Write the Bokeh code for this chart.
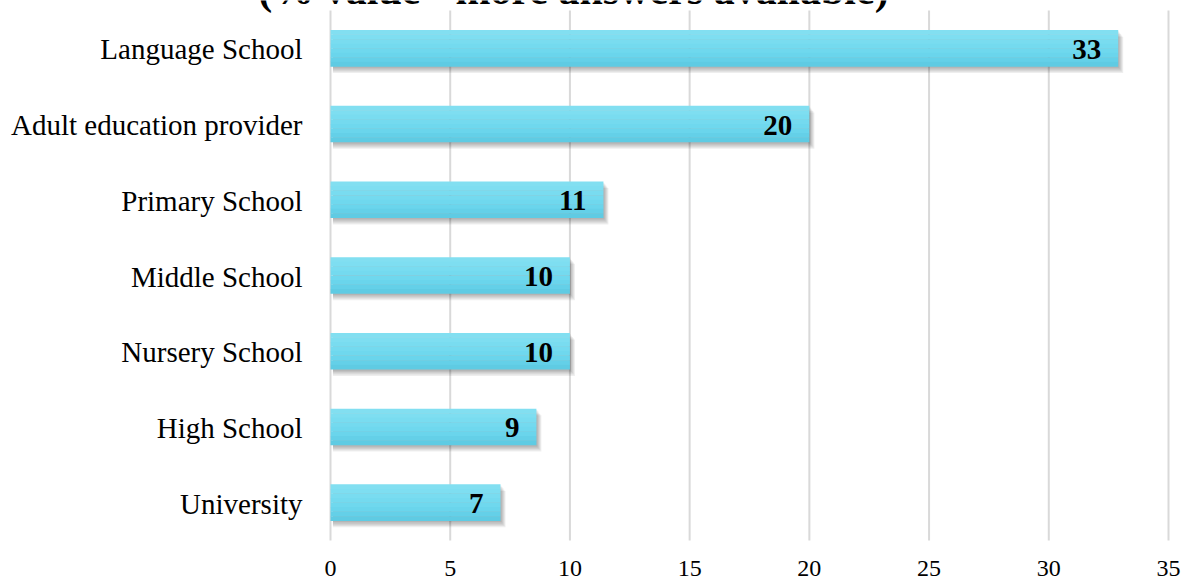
from bokeh.plotting import figure
from bokeh.models import ColumnDataSource, FactorRange, Range1d, Label
from bokeh.transform import dodge
from bokeh.core.properties import value
from bokeh.embed import file_html
from bokeh.resources import INLINE

categories = ["Language School", "Adult education provider", "Primary School",
              "Middle School", "Nursery School", "High School", "University"]
values = [32.9, 20.0, 11.4, 10.0, 10.0, 8.6, 7.1]
labels = ["33", "20", "11", "10", "10", "9", "7"]
x_ticks = [0, 5, 10, 15, 20, 25, 30, 35]
tick_labels = ["0", "5", "10", "15", "20", "25", "30", "35"]
title_text = "(% value - more answers available)"

W, H = 1182, 581
# layout: value axis 0..35 spans pixels 330..1168; category band spans pixels 10..540
ppu = (1168 - 330) / 35.0
S = (540 - 10) / 7.0                      # pixels per category
span = H / S                              # synthetic units shown
pad = (span - 7) / 7.0
shift = (((H - 530) / 2.0) - 10) / S      # move band up so that it starts at 10px

x_range = Range1d(-330 / ppu, 35 + (W - 1168) / ppu)
y_range = FactorRange(factors=list(reversed(categories)), range_padding=pad)

p = figure(width=W, height=H, x_range=x_range, y_range=y_range,
           output_backend="svg", toolbar_location=None,
           x_axis_location=None, y_axis_location=None,
           min_border_left=0, min_border_right=0, min_border_top=0, min_border_bottom=0)
p.background_fill_color = "white"
p.border_fill_color = "white"
p.outline_line_color = None
p.grid.grid_line_color = None

src = ColumnDataSource(dict(cat=categories, val=values, lab=labels))

# vertical gridlines at the value ticks, spanning the category band
gsrc = ColumnDataSource(dict(x=x_ticks, lab=tick_labels, ybot=[categories[-1]] * len(x_ticks),
                             ytop=[categories[0]] * len(x_ticks)))
p.segment(x0="x", x1="x", y0=dodge("ybot", -0.5 + shift, range=y_range),
          y1=dodge("ytop", 0.5 + shift, range=y_range),
          source=gsrc, line_color="#d9d9d9", line_width=2)

bar_h = 0.48
px_y = 1 / S
px_x = 1 / ppu

# soft shadow layers
for k in range(1, 6):
    sh = dict(cat=categories, right=[v + k * 1.0 * px_x for v in values],
              left=[0.1] * len(values))
    p.hbar(y=dodge("cat", shift - k * 1.3 * px_y, range=y_range), height=bar_h,
           left="left", right="right", source=ColumnDataSource(sh),
           fill_color="black", fill_alpha=0.065, line_color=None)

# gradient bar slices (top -> bottom)
colors = ["#82dff1", "#7edef1", "#79dcf0", "#74daef", "#6fd8ee", "#6ad5ec",
          "#64d0e8", "#5fcbe3"]
n = len(colors)
sh_h = bar_h / n
for i, c in enumerate(colors):
    off = bar_h / 2 - sh_h * (i + 0.5)
    p.hbar(y=dodge("cat", shift + off, range=y_range), height=sh_h * 1.05, left=0, right="val",
           source=src, fill_color=c, line_color=None)

# value labels
p.text(x="val", y=dodge("cat", shift, range=y_range), text="lab", source=src,
       text_align="right", text_baseline="middle",
       x_offset=-17, y_offset=1, text_font=value("Liberation Serif"), text_font_style="bold",
       text_font_size="29px", text_color="black")

# category labels (left axis)
p.text(x=0, y=dodge("cat", shift, range=y_range), text="cat", source=src,
       text_align="right", text_baseline="middle",
       x_offset=-28, y_offset=1, text_font=value("Liberation Serif"),
       text_font_size="29px", text_color="black")

# value tick labels (bottom axis)
p.text(x="x", y=dodge("ybot", -0.5 + shift - 28 / S, range=y_range), text="lab", source=gsrc,
       text_align="center", text_baseline="middle", text_font=value("Liberation Serif"),
       text_font_size="24px", text_color="black")

# title (screen units relative to the frame's bottom-left corner), cut at the top edge
title = Label(x=573, y=H + 11, x_units="screen", y_units="screen", text=title_text,
              text_align="center", text_baseline="alphabetic", text_font="Liberation Serif",
              text_font_style="bold", text_font_size="42px", text_color="black")
p.add_layout(title)

open("out.html", "w").write(file_html(p, INLINE))
